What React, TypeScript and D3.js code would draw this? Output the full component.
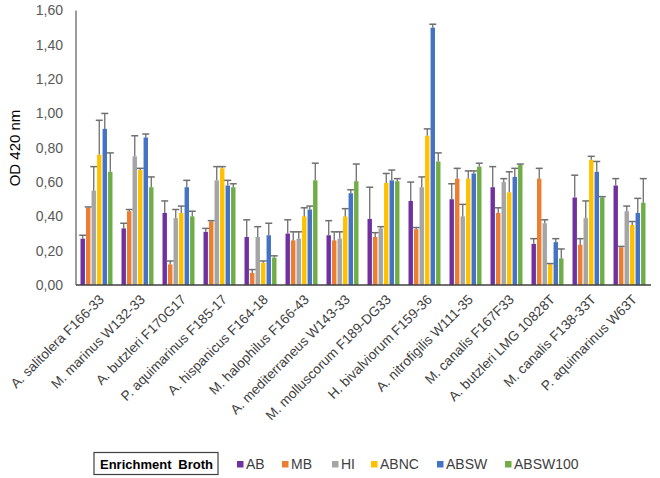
import React from "react";
import * as d3 from "d3";

const categories = [
  "A. salitolera F166-33",
  "M. marinus W132-33",
  "A. butzleri F170G17",
  "P. aquimarinus F185-17",
  "A. hispanicus F164-18",
  "M. halophilus F166-43",
  "A. mediterraneus W143-33",
  "M. molluscorum F189-DG33",
  "H. bivalviorum F159-36",
  "A. nitrofigilis W111-35",
  "M. canalis F167F33",
  "A. butzleri LMG 10828T",
  "M. canalis F138-33T",
  "P. aquimarinus W63T",
];

const seriesNames = ["AB", "MB", "HI", "ABNC", "ABSW", "ABSW100"];
const seriesColors = ["#7030A0", "#ED7D31", "#A5A5A5", "#FFC000", "#4472C4", "#70AD47"];

const AB = [0.27, 0.33, 0.42, 0.31, 0.28, 0.3, 0.29, 0.385, 0.49, 0.5, 0.57, 0.24, 0.51, 0.58];
const AB_err = [0.02, 0.03, 0.07, 0.02, 0.1, 0.08, 0.085, 0.185, 0.11, 0.09, 0.12, 0.03, 0.13, 0.04];
const MB = [0.45, 0.43, 0.12, 0.37, 0.07, 0.26, 0.26, 0.28, 0.325, 0.62, 0.42, 0.62, 0.235, 0.22];
const MB_err = [0.005, 0.01, 0.02, 0.005, 0.02, 0.05, 0.05, 0.025, 0.01, 0.06, 0.03, 0.06, 0.035, 0.005];
const HI = [0.55, 0.75, 0.39, 0.61, 0.28, 0.27, 0.27, 0.33, 0.57, 0.4, 0.6, 0.36, 0.39, 0.43];
const HI_err = [0.14, 0.12, 0.05, 0.08, 0.06, 0.04, 0.04, 0.01, 0.06, 0.07, 0.02, 0.02, 0.1, 0.03];
const ABNC = [0.76, 0.67, 0.42, 0.68, 0.13, 0.4, 0.4, 0.595, 0.87, 0.62, 0.54, 0.12, 0.73, 0.35];
const ABNC_err = [0.2, 0.01, 0.04, 0.01, 0.01, 0.05, 0.045, 0.055, 0.04, 0.045, 0.12, 0.005, 0.02, 0.02];
const ABSW = [0.91, 0.86, 0.57, 0.58, 0.29, 0.44, 0.535, 0.61, 1.5, 0.65, 0.63, 0.25, 0.66, 0.42];
const ABSW_err = [0.09, 0.02, 0.04, 0.03, 0.07, 0.02, 0.02, 0.06, 0.02, 0.015, 0.05, 0.02, 0.06, 0.085];
const ABSW100 = [0.66, 0.57, 0.4, 0.57, 0.16, 0.61, 0.605, 0.605, 0.72, 0.69, 0.7, 0.155, 0.51, 0.48];
const ABSW100_err = [0.11, 0.06, 0.03, 0.02, 0.01, 0.1, 0.1, 0.015, 0.05, 0.02, 0.005, 0.055, 0.005, 0.14];

const seriesValues = [AB, MB, HI, ABNC, ABSW, ABSW100];
const seriesErrors = [AB_err, MB_err, HI_err, ABNC_err, ABSW_err, ABSW100_err];

const yTicks = [0, 0.2, 0.4, 0.6, 0.8, 1.0, 1.2, 1.4, 1.6];

const W = 660;
const H = 478;
const FONT = "'Liberation Sans', Arial, sans-serif";

export default function App() {
  const x0 = d3.scaleBand<string>().domain(categories).range([76, 650]).paddingInner(0.22).paddingOuter(0.11);
  const x1 = d3.scaleBand<string>().domain(seriesNames).range([0, x0.bandwidth()]).paddingInner(0.2).paddingOuter(0);
  const y = d3.scaleLinear().domain([0, 1.6]).range([285, 10.5]);
  const fmt = (v: number) => v.toFixed(2).replace(".", ",");

  const legendX = [237, 282, 332, 371, 437, 505];

  return (
    <svg width={W} height={H} style={{ position: "absolute", left: 0, top: 0, background: "#fff" }} fontFamily={FONT}>
      {categories.map((c, ci) => (
        <g key={c} transform={`translate(${x0(c)},0)`}>
          {seriesNames.map((s, si) => {
            const v = seriesValues[si][ci];
            const e = seriesErrors[si][ci];
            const bx = x1(s)!;
            const bw = x1.bandwidth();
            const cx = bx + bw / 2;
            return (
              <g key={s}>
                <rect x={bx} y={y(v)} width={bw} height={y(0) - y(v)} fill={seriesColors[si]} />
                <line x1={cx} x2={cx} y1={y(v)} y2={y(v + e)} stroke="#6f6f6f" strokeWidth={1.3} />
                <line x1={cx - 3.5} x2={cx + 3.5} y1={y(v + e)} y2={y(v + e)} stroke="#6f6f6f" strokeWidth={1.5} />
              </g>
            );
          })}
        </g>
      ))}
      <line x1={76} x2={76} y1={y(1.6)} y2={y(0)} stroke="#595959" strokeWidth={1.2} />
      <line x1={76} x2={651} y1={y(0)} y2={y(0)} stroke="#404040" strokeWidth={1.5} />
      {yTicks.map((t) => (
        <text key={t} x={63} y={y(t)} dy="0.35em" textAnchor="end" fontSize={14} fill="#595959">
          {fmt(t)}
        </text>
      ))}
      <text transform={`translate(20,148) rotate(-90)`} textAnchor="middle" fontSize={15} fill="#000">
        OD 420 nm
      </text>
      {categories.map((c) => (
        <text
          key={c}
          transform={`translate(${x0(c)! + x0.bandwidth() / 2 + 5},297) rotate(-45)`}
          textAnchor="end"
          dy="0.35em"
          fontSize={13.6}
          fill="#404040"
        >
          {c}
        </text>
      ))}
      <rect x={94} y={452.5} width={124} height={22} fill="none" stroke="#404040" strokeWidth={1.2} />
      <text x={100} y={464} dy="0.35em" fontSize={13} fontWeight="bold" fill="#000">
        Enrichment
      </text>
      <text x={213} y={464} dy="0.35em" textAnchor="end" fontSize={13} fontWeight="bold" fill="#000">
        Broth
      </text>
      {seriesNames.map((s, i) => (
        <g key={s}>
          <rect x={legendX[i]} y={461} width={6.5} height={6.5} fill={seriesColors[i]} />
          <text x={legendX[i] + 9} y={464} dy="0.35em" fontSize={14} fill="#404040">
            {s}
          </text>
        </g>
      ))}
    </svg>
  );
}
